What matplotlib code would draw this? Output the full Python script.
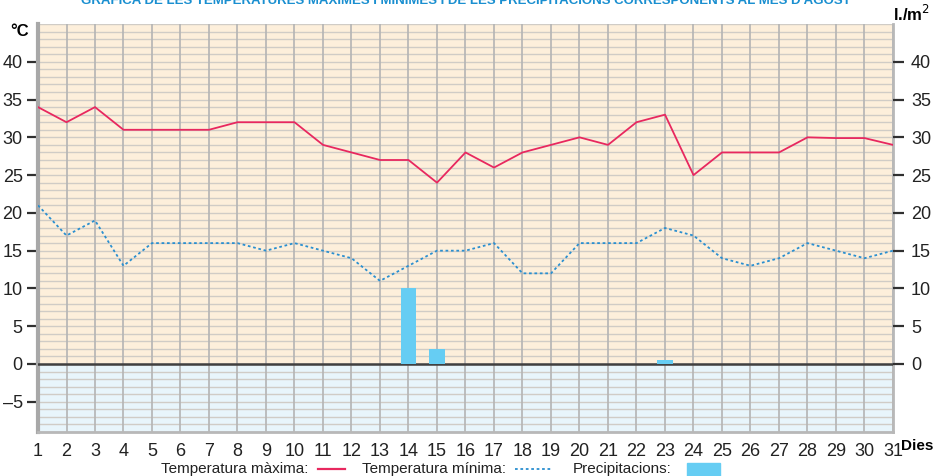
import numpy as np
import matplotlib.pyplot as plt
from matplotlib.lines import Line2D
from matplotlib.patches import Rectangle

plt.rcParams['font.family'] = ['Liberation Sans Narrow', 'Liberation Sans', 'DejaVu Sans']

# Data
days = np.arange(1, 32)
t_max = [34, 32, 34, 31, 31, 31, 31, 32, 32, 32, 29, 28, 27, 27, 24, 28,
         26, 28, 29, 30, 29, 32, 33, 25, 28, 28, 28, 30, 29.9, 29.9, 29]
t_min = [21, 17, 19, 13, 16, 16, 16, 16, 15, 16, 15, 14, 11, 13, 15, 15,
         16, 12, 12, 16, 16, 16, 18, 17, 14, 13, 14, 16, 15, 14, 15]
rain_days = [14, 15, 23]
rain = [10, 2, 0.5]
left_ticks = [-5, 0, 5, 10, 15, 20, 25, 30, 35, 40]
right_ticks = [0, 5, 10, 15, 20, 25, 30, 35, 40]

W, H = 933, 476
fig = plt.figure(figsize=(W / 100, H / 100), dpi=100)
ax = fig.add_axes([38 / W, 1 - 432 / H, (893 - 38) / W, (432 - 24) / H])
ax.set_xlim(1, 31)
ax.set_ylim(-9, 45)

# backgrounds
ax.axhspan(0, 45, color='#fdefdb', zorder=0)
ax.axhspan(-9, 0, color='#e8f5fb', zorder=0)
for y in range(-9, 46):
    ax.axhline(y, color='#d0ccc6', lw=1.0, zorder=1)
for d in days:
    ax.axvline(d, color='#b4b4b4', lw=1.2, zorder=1)
ax.axhline(0, color='#404040', lw=1.8, zorder=3)

ax.bar(rain_days, rain, width=0.56, color='#66cdf3', zorder=4)
ax.plot(days, t_max, color='#e8285f', lw=1.3, zorder=5)
ax.plot(days, t_min, color='#2a8fd0', lw=1.3, ls=(0, (1.5, 1.5)), zorder=5)

ax.spines['top'].set_visible(False)
ax.spines['left'].set_color('#a8a8a8')
ax.spines['left'].set_linewidth(3)
ax.spines['right'].set_color('#b8b8b8')
ax.spines['right'].set_linewidth(2)
ax.spines['bottom'].set_color('#b8b8b8')
ax.spines['bottom'].set_linewidth(2)

ax.set_yticks(left_ticks)
ax.set_yticklabels(['\u20135' if v < 0 else str(v) for v in left_ticks])
ax.tick_params(axis='y', length=8, width=1.6, color='#303030', labelsize=13,
               pad=3, labelcolor='#222222')
ax.set_xticks(days)
ax.tick_params(axis='x', length=0, labelsize=13, pad=8, labelcolor='#222222')

ax2 = ax.twinx()
ax2.set_ylim(-9, 45)
ax2.set_yticks(right_ticks)
ax2.tick_params(axis='y', length=8, width=1.6, color='#303030', labelsize=13,
                pad=5, labelcolor='#222222')
for s in ax2.spines.values():
    s.set_visible(False)

fig.text(10 / W, 1 - 32 / H, '°C', fontsize=12, fontweight='bold', va='center')
fig.text(893 / W, 1 - 14 / H, 'l./m$^2$', fontsize=12, fontweight='bold', va='center')
fig.text(901 / W, 1 - 446 / H, 'Dies', fontsize=11, fontweight='bold', va='center')

fig.text(466 / W, 1 - 0.5 / H,
         "GRÀFICA DE LES TEMPERATURES MÀXIMES I MÍNIMES I DE LES PRECIPITACIONS CORRESPONENTS AL MES D'AGOST",
         fontsize=9.5, fontweight='bold', color='#1a8fd0', ha='center', va='center')

# legend row
ly = 1 - 469 / H
fig.text(308 / W, ly, 'Temperatura màxima:', fontsize=11, ha='right', va='center', color='#222222')
fig.add_artist(Line2D([318 / W, 345 / W], [ly, ly], color='#e8285f', lw=1.6))
fig.text(506 / W, ly, 'Temperatura mínima:', fontsize=11, ha='right', va='center', color='#222222')
fig.add_artist(Line2D([515 / W, 552 / W], [ly, ly], color='#2a8fd0', lw=1.3, ls=(0, (1.5, 1.5))))
fig.text(671 / W, ly, 'Precipitacions:', fontsize=11, ha='right', va='center', color='#222222')
fig.add_artist(Rectangle((687 / W, 0), 33 / W, 13 / H, color='#66cdf3'))

fig.savefig('out.png', dpi=100)
